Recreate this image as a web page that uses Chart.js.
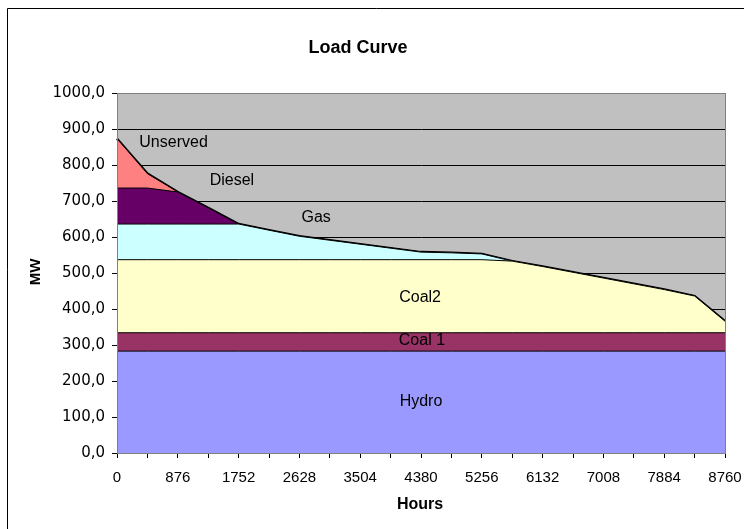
<!DOCTYPE html>
<html>
<head>
<meta charset="utf-8">
<script src="https://cdn.jsdelivr.net/npm/chart.js@4"></script>
<style>
  html, body { margin: 0; padding: 0; background: #fff; }
  #wrap { position: relative; width: 744px; height: 529px; }
</style>
</head>
<body>
<div id="wrap"><canvas id="mycanvas" width="744" height="529"></canvas></div>
<script>
// hours, one point every 438 h
var hours = ['0','438','876','1314','1752','2190','2628','3066','3504','3942','4380',
             '4818','5256','5694','6132','6570','7008','7446','7884','8322','8760'];

// MW per layer, stacked bottom to top
var hydro    = [283,283,283,283,283,283,283,283,283,283,283,283,283,283,283,283,283,283,283,283,283];
var coal1    = [51,51,51,51,51,51,51,51,51,51,51,51,51,51,51,51,51,51,51,51,51];
var coal2    = [203,203,203,203,203,203,203,203,203,203,203,203,203,199,184,168,152,136,120,102,32];
var gas      = [99,99,99,99,99,82,65,54,43,32,21,19,16,0,0,0,0,0,0,0,0];
var diesel   = [100,100,89,45,0,0,0,0,0,0,0,0,0,0,0,0,0,0,0,0,0];
var unserved = [137,40,0,0,0,0,0,0,0,0,0,0,0,0,0,0,0,0,0,0,0];
// total load curve
var load     = [873,776,725,681,636,619,602,591,580,569,558,556,553,533,518,502,486,470,454,436,366];

var yTicks = [0,100,200,300,400,500,600,700,800,900,1000];

// text written inside the areas: [text, hour index, MW]
var areaLabels = [
  ['Unserved', 1.86, 863],
  ['Diesel', 3.78, 758],
  ['Gas', 6.55, 655],
  ['Coal2', 9.97, 433],
  ['Coal 1', 10.03, 311],
  ['Hydro', 10.0, 142]
];

var ARIAL = '"Liberation Sans", Arial, sans-serif';

function area(label, data, color, fill) {
  return {
    label: label, data: data, stack: 'gen',
    backgroundColor: color, borderColor: '#000', borderWidth: 1,
    fill: fill, pointRadius: 0, tension: 0
  };
}

var decor = {
  id: 'decor',
  beforeDraw: function(chart) {
    var c = chart.ctx, a = chart.chartArea;
    c.save();
    c.fillStyle = '#fff';
    c.fillRect(0, 0, chart.width, chart.height);
    // outer frame
    c.strokeStyle = '#000';
    c.lineWidth = 1;
    c.beginPath();
    c.moveTo(7.5, 540); c.lineTo(7.5, 8.5); c.lineTo(760, 8.5);
    c.stroke();
    c.fillStyle = '#c0c0c0';
    c.fillRect(a.left, a.top, a.right - a.left, a.bottom - a.top);
    c.restore();
  },
  afterDatasetsDraw: function(chart) {
    var c = chart.ctx, a = chart.chartArea;
    var xs = chart.scales.x, ys = chart.scales.y;
    c.save();
    c.strokeStyle = '#808080';
    c.lineWidth = 1;
    c.strokeRect(a.left + 0.5, a.top + 0.5, a.right - a.left, a.bottom - a.top);
    c.fillStyle = '#000';
    c.textAlign = 'center';
    c.textBaseline = 'middle';
    c.font = '16px ' + ARIAL;
    areaLabels.forEach(function(l) {
      c.fillText(l[0], xs.getPixelForValue(l[1]), ys.getPixelForValue(l[2]));
    });
    c.font = 'bold 18px ' + ARIAL;
    c.fillText('Load Curve', 358, 48);
    c.font = 'bold 16px ' + ARIAL;
    c.fillText('Hours', 420, 505);
    c.translate(36, 272);
    c.rotate(-Math.PI / 2);
    c.font = 'bold 15px ' + ARIAL;
    c.fillText('MW', 0, 0);
    c.restore();
  }
};

var ctx = document.getElementById('mycanvas');

var chart = new Chart(ctx, {
  type: 'line',
  data: {
    labels: hours,
    datasets: [
      area('Hydro', hydro, '#9999ff', 'origin'),
      area('Coal 1', coal1, '#993366', '-1'),
      area('Coal2', coal2, '#ffffcc', '-1'),
      area('Gas', gas, '#ccffff', '-1'),
      area('Diesel', diesel, '#660066', '-1'),
      area('Unserved', unserved, '#ff8080', '-1'),
      {
        label: 'Load', data: load, stack: 'load',
        borderColor: '#000', borderWidth: 2.5, fill: false,
        pointRadius: 0, tension: 0
      }
    ]
  },
  options: {
    responsive: false,
    animation: false,
    layout: { padding: { top: 93, right: 19, left: 0, bottom: 0 } },
    plugins: { legend: { display: false }, tooltip: { enabled: false }, title: { display: false } },
    scales: {
      x: {
        type: 'category',
        offset: false,
        afterFit: function(s) { s.height = 76; s.paddingLeft = 0; s.paddingRight = 0; },
        grid: { drawOnChartArea: false, color: '#000', tickLength: 5 },
        border: { color: '#000' },
        ticks: {
          autoSkip: false, maxRotation: 0, padding: 11, color: '#000',
          font: { family: ARIAL, size: 15 },
          callback: function(v, i) { return i % 2 === 0 ? hours[i] : ''; }
        }
      },
      y: {
        stacked: true,
        min: 0, max: 1000,
        afterFit: function(s) { s.width = 117; s.paddingTop = 0; s.paddingBottom = 0; },
        afterBuildTicks: function(s) { s.ticks = yTicks.map(function(v) { return { value: v }; }); },
        grid: { color: '#000', tickLength: 5 },
        border: { color: '#000' },
        ticks: {
          padding: 7, color: '#000',
          font: { family: '"DejaVu Sans", sans-serif', size: 15 },
          callback: function(v) { return v.toFixed(1).replace('.', ','); }
        }
      }
    }
  },
  plugins: [decor]
});
</script>
</body>
</html>
